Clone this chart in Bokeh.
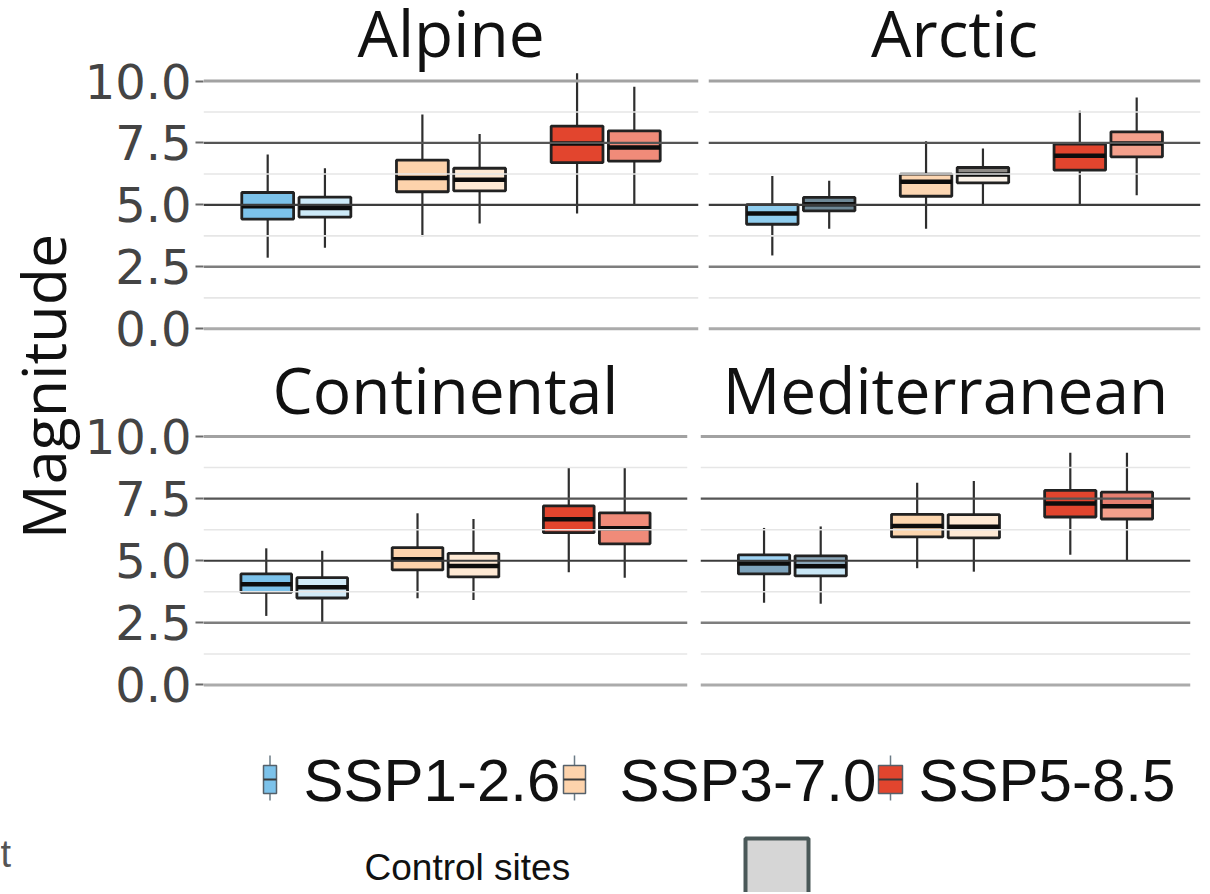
import numpy as np
from bokeh.plotting import figure
from bokeh.models import Range1d, Span, FixedTicker, NumeralTickFormatter, ColumnDataSource
from bokeh.layouts import row, column
from bokeh.core.properties import value
from bokeh.embed import file_html
from bokeh.resources import INLINE

# ---------------- data ----------------
regions = ["Alpine", "Arctic", "Continental", "Mediterranean"]
scenarios = ["SSP1-2.6", "SSP3-7.0", "SSP5-8.5"]
site_sets = ["A", "B"]          # two boxes per scenario
y_ticks = [0, 2.5, 5, 7.5, 10]
y_minor = [1.25, 3.75, 6.25, 8.75]

# box order: SSP1 A, SSP1 B, SSP3 A, SSP3 B, SSP5 A, SSP5 B
alpine_lo = [2.87, 3.27, 3.73, 4.25, 4.65, 4.97]
alpine_q1 = [4.43, 4.51, 5.53, 5.57, 6.71, 6.77]
alpine_med = [4.95, 4.88, 6.09, 6.02, 7.48, 7.32]
alpine_q3 = [5.50, 5.31, 6.81, 6.48, 8.18, 7.99]
alpine_hi = [7.03, 6.48, 8.65, 7.86, 10.31, 9.77]

arctic_lo = [2.96, 4.04, 4.04, 5.03, 5.03, 5.39]
arctic_q1 = [4.22, 4.76, 5.35, 5.89, 6.40, 6.94]
arctic_med = [4.65, 5.03, 5.93, 6.23, 6.98, 7.48]
arctic_q3 = [5.01, 5.30, 6.24, 6.51, 7.45, 7.95]
arctic_hi = [6.17, 5.97, 7.57, 7.28, 8.80, 9.33]

continental_lo = [2.78, 2.46, 3.49, 3.42, 4.54, 4.32]
continental_q1 = [3.73, 3.50, 4.63, 4.35, 6.13, 5.68]
continental_med = [4.05, 3.93, 5.06, 4.79, 6.67, 6.31]
continental_q3 = [4.47, 4.32, 5.53, 5.30, 7.21, 6.93]
continental_hi = [5.50, 5.40, 6.91, 6.68, 8.75, 8.75]

mediterranean_lo = [3.31, 3.27, 4.70, 4.56, 5.24, 5.03]
mediterranean_q1 = [4.47, 4.39, 5.96, 5.92, 6.76, 6.68]
mediterranean_med = [4.89, 4.78, 6.40, 6.37, 7.30, 7.19]
mediterranean_q3 = [5.24, 5.20, 6.87, 6.86, 7.83, 7.76]
mediterranean_hi = [6.32, 6.38, 8.14, 8.21, 9.35, 9.35]

# fill colours (upper half / lower half of each box)
alpine_upper = ["#7cc2ea", "#cdeaf8", "#fdd3ac", "#fee9d4", "#e2452e", "#f08b79"]
alpine_lower = ["#7cc2ea", "#cdeaf8", "#fdd3ac", "#fee9d4", "#e2452e", "#f08b79"]
arctic_upper = ["#8fcdee", "#6f8896", "#fcd6b2", "#8e8a86", "#e2452e", "#f4a08c"]
arctic_lower = ["#8fcdee", "#6f8896", "#fcd6b2", "#fbf3ea", "#e2452e", "#f4a08c"]
continental_upper = ["#7cc2ea", "#d2ebf8", "#fdd3ac", "#fee9d4", "#e2452e", "#f08b79"]
continental_lower = ["#7cc2ea", "#d2ebf8", "#fdd3ac", "#fee9d4", "#e2452e", "#f08b79"]
mediterranean_upper = ["#9fd3f3", "#8aa6b8", "#fdd6ae", "#fee9d4", "#e2452e", "#e77f70"]
mediterranean_lower = ["#7ea4bd", "#c9e7f6", "#fdd6ae", "#fee9d4", "#e2452e", "#f4a08c"]

legend_colors = ["#7cc2ea", "#fdd3ac", "#e2452e"]

panels = {
    "Alpine": (alpine_lo, alpine_q1, alpine_med, alpine_q3, alpine_hi, alpine_upper, alpine_lower),
    "Arctic": (arctic_lo, arctic_q1, arctic_med, arctic_q3, arctic_hi, arctic_upper, arctic_lower),
    "Continental": (continental_lo, continental_q1, continental_med, continental_q3, continental_hi,
                    continental_upper, continental_lower),
    "Mediterranean": (mediterranean_lo, mediterranean_q1, mediterranean_med, mediterranean_q3,
                      mediterranean_hi, mediterranean_upper, mediterranean_lower),
}

# ---------------- style ----------------
DODGE = 0.185
BOX_W = 0.335
grid_style = {0: ("#ababab", 3.0), 2.5: ("#7e7e7e", 2.5), 5: ("#3c3c3c", 2.2),
              7.5: ("#555555", 2.2), 10: ("#a2a2a2", 3.0)}


def make_panel(name, fw, fh, left, right, yr, title_y, show_axis):
    lo, q1, med, q3, hi, up_c, low_c = panels[name]
    p = figure(frame_width=fw, frame_height=fh, x_range=Range1d(0.4, 3.6), y_range=Range1d(*yr),
               output_backend="svg", toolbar_location=None,
               min_border_left=left, min_border_right=right, min_border_top=0, min_border_bottom=0)
    p.outline_line_color = None
    p.background_fill_color = "white"
    p.border_fill_color = "white"
    p.xgrid.visible = False
    p.ygrid.visible = False
    p.xaxis.visible = False
    if show_axis:
        ax = p.yaxis[0]
        ax.ticker = FixedTicker(ticks=y_ticks)
        ax.formatter = NumeralTickFormatter(format="0.0")
        ax.major_label_text_font = "DejaVu Sans"
        ax.major_label_text_font_size = "48px"
        ax.major_label_text_color = "#444444"
        ax.axis_line_color = None
        ax.major_tick_line_color = "#6a6a6a"
        ax.major_tick_line_width = 2
        ax.major_tick_out = 8
        ax.major_tick_in = 0
        ax.minor_tick_line_color = None
        ax.major_label_standoff = 4
    else:
        p.yaxis.visible = False

    for v in y_minor:
        p.add_layout(Span(location=v, dimension="width", line_color="#e6e6e6", line_width=1.6))
    for v in y_ticks:
        c, w = grid_style[v]
        p.add_layout(Span(location=v, dimension="width", line_color=c, line_width=w))

    xs = [g + off for g in range(1, len(scenarios) + 1) for off in (-DODGE, DODGE)]
    src = ColumnDataSource(dict(
        x=xs, lo=lo, q1=q1, med=med, q3=q3, hi=hi, up=up_c, low=low_c,
        x0=[x - BOX_W / 2 for x in xs], x1=[x + BOX_W / 2 for x in xs]))
    p.segment(x0="x", y0="lo", x1="x", y1="hi", source=src, line_color="#2e2e2e", line_width=2.2)
    p.vbar(x="x", width=BOX_W, bottom="q1", top="med", source=src, fill_color="low", line_color=None)
    p.vbar(x="x", width=BOX_W, bottom="med", top="q3", source=src, fill_color="up", line_color=None)
    p.vbar(x="x", width=BOX_W, bottom="q1", top="q3", source=src, fill_color=None,
           line_color="#222222", line_width=2.8)
    p.segment(x0="x0", y0="med", x1="x1", y1="med", source=src, line_color="#0d0d0d", line_width=4.5)

    p.text(x=[2.0], y=[title_y], text=[name], text_align="center", text_baseline="middle",
           text_font=value("Open Sans"), text_font_size=value("64px"), text_color="#111111")
    return p


TOP_H = 354
BOT_H = 712 - TOP_H
TOP_YR = (-1.037, 13.249)
BOT_YR = (-1.107, 13.300)
tl = make_panel("Alpine", 495, TOP_H, 123, 5, TOP_YR, 11.95, True)
tr = make_panel("Arctic", 492, TOP_H, 5, 8, TOP_YR, 11.95, False)
bl = make_panel("Continental", 484, BOT_H, 123, 6, BOT_YR, 11.91, True)
br = make_panel("Mediterranean", 490, BOT_H, 7, 18, BOT_YR, 11.91, False)


def blank(fw, fh, xr, yr):
    f = figure(frame_width=fw, frame_height=fh, x_range=Range1d(*xr), y_range=Range1d(*yr),
               output_backend="svg", toolbar_location=None, min_border=0)
    f.outline_line_color = None
    f.axis.visible = False
    f.grid.visible = False
    f.background_fill_color = "white"
    f.border_fill_color = "white"
    return f


# y-axis title
lab = blank(80, 712, (0, 80), (712, 0))
lab.text(x=[42], y=[386], text=["Magnitude"], angle=np.pi / 2, text_align="center",
         text_baseline="middle", text_font=value("Open Sans"), text_font_size=value("61px"),
         text_color="#111111")

# legend + bottom strip
bot = blank(1208, 180, (0, 1208), (892, 712))
key_x = [269.5, 574, 890]
key_w = [13, 22, 24]
text_x = [303, 619, 918]
ksrc = ColumnDataSource(dict(
    x=key_x, l=[x - w / 2 for x, w in zip(key_x, key_w)], r=[x + w / 2 for x, w in zip(key_x, key_w)],
    c=legend_colors, top=[765] * 3, bottom=[793] * 3, wt=[755] * 3, wb=[800] * 3, m=[779] * 3,
    tx=text_x, ty=[780] * 3, label=scenarios))
bot.segment(x0="x", y0="wt", x1="x", y1="wb", source=ksrc, line_color="#6b7b86", line_width=1.5)
bot.quad(left="l", right="r", top="top", bottom="bottom", source=ksrc, fill_color="c",
         line_color="#55606a", line_width=1.5)
bot.segment(x0="l", y0="m", x1="r", y1="m", source=ksrc, line_color="#3a3a3a", line_width=2)
bot.text(x="tx", y="ty", text="label", source=ksrc, text_baseline="middle",
         text_font=value("Liberation Sans"), text_font_size=value("60px"), text_color="#111111")

bot.text(x=[0], y=[853], text=["t"], text_baseline="middle",
         text_font=value("Liberation Sans"), text_font_size=value("38px"), text_color="#555555")
bot.text(x=[364], y=[866.5], text=["Control sites"], text_baseline="middle",
         text_font=value("Liberation Sans"), text_font_size=value("37px"), text_color="#111111")
bot.quad(left=[745], right=[808], top=[838], bottom=[900], fill_color="#d6d6d6",
         line_color="#4a5858", line_width=4)

layout = column(row(lab, column(row(tl, tr), row(bl, br))), bot)
open("out.html", "w").write(file_html(layout, INLINE))
